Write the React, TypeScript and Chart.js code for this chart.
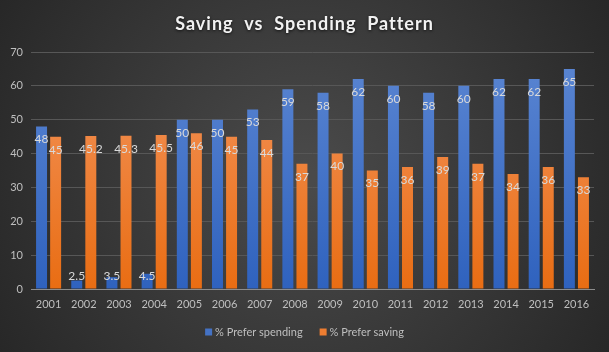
import React, { useEffect, useRef } from "react";
import { Chart, registerables } from "chart.js";

Chart.register(...registerables);

const years = ["2001","2002","2003","2004","2005","2006","2007","2008","2009","2010","2011","2012","2013","2014","2015","2016"];
const spending = [48, 2.5, 3.5, 4.5, 50, 50, 53, 59, 58, 62, 60, 58, 60, 62, 62, 65];
const saving = [45, 45.2, 45.3, 45.5, 46, 45, 44, 37, 40, 35, 36, 39, 37, 34, 36, 33];
const seriesNames = ["% Prefer spending", "% Prefer saving"];
const legendColors = ["#4472c4", "#ed7d31"];
const titleText = "Saving  vs  Spending  Pattern";

const FONT = "Lato, 'Open Sans', sans-serif";

const bgPlugin = {
  id: "bgPlugin",
  beforeDraw(chart: any) {
    const { ctx, width, height } = chart;
    ctx.save();
    const g = ctx.createRadialGradient(width / 2, height / 2, 10, width / 2, height / 2, width * 0.6);
    g.addColorStop(0, "#4a4a4a");
    g.addColorStop(1, "#262626");
    ctx.fillStyle = g;
    ctx.fillRect(0, 0, width, height);
    ctx.restore();
  },
};

const titlePlugin = {
  id: "titlePlugin",
  afterDraw(chart: any) {
    const { ctx, width } = chart;
    ctx.save();
    ctx.font = `bold 18px ${FONT}`;
    ctx.textAlign = "center";
    ctx.textBaseline = "middle";
    ctx.shadowColor = "rgba(0,0,0,0.7)";
    ctx.shadowBlur = 3;
    ctx.shadowOffsetY = 1;
    ctx.fillStyle = "#f2f2f2";
    try { (ctx as any).letterSpacing = "1px"; } catch (e) {}
    ctx.fillText(titleText, width / 2, 24);
    ctx.restore();
  },
};

const legendPlugin = {
  id: "customLegend",
  afterDraw(chart: any) {
    const { ctx, width } = chart;
    ctx.save();
    ctx.font = `11px ${FONT}`;
    ctx.textBaseline = "middle";
    const box = 7, gapBox = 3, gapItem = 17;
    const widths = seriesNames.map((n) => ctx.measureText(n).width);
    const total = widths.reduce((a, w) => a + box + gapBox + w, 0) + gapItem * (seriesNames.length - 1);
    let x = width / 2 - total / 2;
    const y = 332;
    seriesNames.forEach((n, i) => {
      ctx.fillStyle = legendColors[i];
      ctx.fillRect(x, y - box / 2, box, box);
      x += box + gapBox;
      ctx.fillStyle = "#bfbfbf";
      ctx.fillText(n, x, y);
      x += widths[i] + gapItem;
    });
    ctx.restore();
  },
};

const labelPlugin = {
  id: "labelPlugin",
  afterDatasetsDraw(chart: any) {
    const { ctx } = chart;
    const base = chart.scales.y.getPixelForValue(0);
    ctx.save();
    ctx.font = `12px ${FONT}`;
    ctx.textAlign = "center";
    ctx.textBaseline = "middle";
    ctx.fillStyle = "#d9d9d9";
    chart.data.datasets.forEach((ds: any, i: number) => {
      const meta = chart.getDatasetMeta(i);
      meta.data.forEach((bar: any, j: number) => {
        const v = ds.data[j];
        const cy = Math.min(bar.y + 13, base - 13);
        ctx.fillText(String(v), bar.x, cy);
      });
    });
    ctx.restore();
  },
};

function grad(chart: any, top: string, bottom: string) {
  const area = chart.chartArea;
  if (!area) return top;
  const g = chart.ctx.createLinearGradient(0, area.top, 0, area.bottom);
  g.addColorStop(0, top);
  g.addColorStop(1, bottom);
  return g;
}

export default function App() {
  const ref = useRef<HTMLCanvasElement>(null);
  useEffect(() => {
    const chart = new Chart(ref.current!, {
      type: "bar",
      data: {
        labels: years,
        datasets: [
          {
            label: seriesNames[0],
            data: spending,
            backgroundColor: (c: any) => grad(c.chart, "#5b86d2", "#2f62be"),
            categoryPercentage: 0.8,
            barPercentage: 0.78,
          },
          {
            label: seriesNames[1],
            data: saving,
            backgroundColor: (c: any) => grad(c.chart, "#f3955e", "#e96d13"),
            categoryPercentage: 0.8,
            barPercentage: 0.78,
          },
        ],
      },
      options: {
        animation: false,
        responsive: false,
        layout: { padding: { left: 6, right: 15, top: 52, bottom: 39 } },
        plugins: {
          title: { display: false },
          tooltip: { enabled: false },
          legend: { display: false },
        },
        scales: {
          x: {
            grid: { display: false, drawTicks: false },
            border: { color: "#8c8c8c", width: 1 },
            ticks: { color: "#bfbfbf", font: { family: FONT, size: 11 }, padding: 9 },
            afterFit: (s: any) => { s.height = 24; },
          },
          y: {
            min: 0,
            max: 70,
            ticks: { stepSize: 10, color: "#bfbfbf", font: { family: FONT, size: 11 }, padding: 8 },
            grid: { color: "#575757", lineWidth: 1, drawTicks: false },
            border: { display: false },
            afterFit: (s: any) => { s.width = 25; },
          },
        },
      },
      plugins: [bgPlugin, titlePlugin, labelPlugin, legendPlugin],
    });
    return () => chart.destroy();
  }, []);
  return (
    <div style={{ position: "absolute", left: 0, top: 0, width: 609, height: 352 }}>
      <canvas ref={ref} width={609} height={352} />
    </div>
  );
}
